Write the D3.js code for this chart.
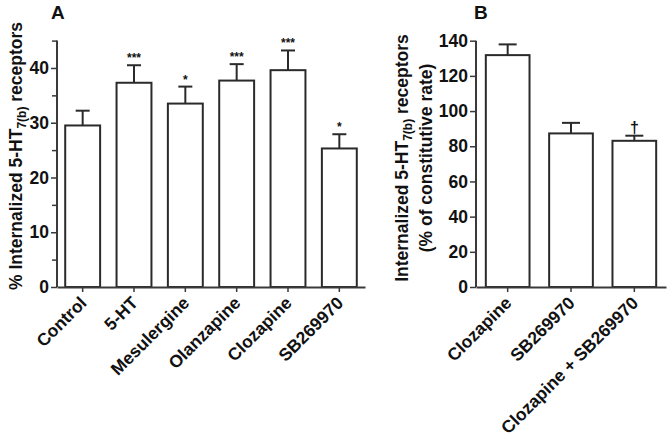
<!DOCTYPE html>
<html><head><meta charset="utf-8">
<script src="https://cdn.jsdelivr.net/npm/d3@7"></script>
<style>
body{margin:0;background:#fff;}
text{font-family:"Liberation Sans",Arial,sans-serif;font-weight:bold;fill:#111;}
</style></head>
<body><svg id="c" width="670" height="442"></svg>
<script>
// Panel A data
const catsA = ["Control","5-HT","Mesulergine","Olanzapine","Clozapine","SB269970"];
const valsA = [29.5, 37.3, 33.5, 37.7, 39.6, 25.3];
const errA  = [2.7, 3.2, 3.1, 3.0, 3.6, 2.6];
const sigA  = ["", "***", "*", "***", "***", "*"];
const ticksA = [0,10,20,30,40];
const minorA = [5,15,25,35,45];
// Panel B data
const catsB = ["Clozapine","SB269970","Clozapine + SB269970"];
const valsB = [131.8, 87.3, 83.1];
const errB  = [6.1, 6.0, 2.9];
const sigB  = ["", "", "\u2020"];
const ticksB = [0,20,40,60,80,100,120,140];

const svg = d3.select("#c");
const axisCol = "#3a3a3a";
const FS = 17.5;

function panel(opts){
  const {x0,x1,yTop,y0,domMax,cats,vals,errs,sigs,ticks,minor,pad,cap} = opts;
  const g = svg.append("g");
  const x = d3.scaleBand().domain(cats).range([x0,x1]).paddingInner(pad).paddingOuter(pad/2);
  const y = d3.scaleLinear().domain([0,domMax]).range([y0,yTop]);
  g.selectAll("rect.bar").data(cats).join("rect")
    .attr("x",d=>x(d)).attr("width",x.bandwidth())
    .attr("y",(d,i)=>y(vals[i])).attr("height",(d,i)=>y0-y(vals[i]))
    .attr("fill","#fff").attr("stroke","#2a2a2a").attr("stroke-width",2);
  cats.forEach((d,i)=>{
    const cx = x(d)+x.bandwidth()/2;
    g.append("line").attr("x1",cx).attr("x2",cx).attr("y1",y(vals[i])).attr("y2",y(vals[i]+errs[i]))
      .attr("stroke","#2a2a2a").attr("stroke-width",2);
    g.append("line").attr("x1",cx-cap/2).attr("x2",cx+cap/2).attr("y1",y(vals[i]+errs[i])).attr("y2",y(vals[i]+errs[i]))
      .attr("stroke","#2a2a2a").attr("stroke-width",2);
    if(sigs[i]){
      g.append("text").attr("x",cx).attr("y",y(vals[i]+errs[i])-3)
        .attr("text-anchor","middle").attr("font-size",sigs[i]==="\u2020"?16:12).text(sigs[i]);
    }
  });
  const ya = g.append("g").attr("transform",`translate(${x0},0)`)
    .call(d3.axisLeft(y).tickValues(ticks).tickSize(6).tickPadding(2).tickFormat(d3.format("d")));
  ya.selectAll(".tick text").attr("font-size",FS).style("font-weight","bold");
  const ym = g.append("g").attr("transform",`translate(${x0},0)`)
    .call(d3.axisLeft(y).tickValues(minor).tickSize(5).tickFormat(""));
  ym.select(".domain").remove();
  [ya,ym].forEach(a=>{a.selectAll("line").attr("stroke",axisCol).attr("stroke-width",1.5);});
  ya.select(".domain").attr("d",`M0,${y0}V${yTop}`).attr("stroke",axisCol).attr("stroke-width",2);
  const xa = g.append("g").attr("transform",`translate(0,${y0})`)
    .call(d3.axisBottom(x).tickSize(5).tickSizeOuter(0));
  xa.select(".domain").attr("stroke",axisCol).attr("stroke-width",2);
  xa.selectAll(".tick line").attr("stroke",axisCol).attr("stroke-width",1.5);
  xa.selectAll(".tick text").attr("font-size",FS).style("font-weight","bold")
    .attr("text-anchor","end").attr("dy",0).attr("y",0)
    .attr("transform","translate(5,17) rotate(-45)");
  return {x,y};
}

panel({x0:57,x1:365,yTop:40.6,y0:287,domMax:45,cats:catsA,vals:valsA,errs:errA,sigs:sigA,
  ticks:ticksA,minor:minorA,pad:0.32,cap:14});
panel({x0:476,x1:666,yTop:40.7,y0:287,domMax:140,cats:catsB,vals:valsB,errs:errB,sigs:sigB,
  ticks:ticksB,minor:[],pad:0.31,cap:18});

svg.append("text").attr("x",51).attr("y",19).attr("font-size",19).text("A");
svg.append("text").attr("x",474).attr("y",19).attr("font-size",19).text("B");

const tA = svg.append("text").attr("transform","translate(22,156) rotate(-90)")
  .attr("text-anchor","middle").attr("font-size",FS);
tA.append("tspan").text("% Internalized 5-HT");
tA.append("tspan").attr("font-size",12).attr("dy",4).text("7(b)");
tA.append("tspan").attr("dy",-4).text(" receptors");

const tB = svg.append("text").attr("transform","translate(408,158) rotate(-90)")
  .attr("text-anchor","middle").attr("font-size",FS);
tB.append("tspan").text("Internalized 5-HT");
tB.append("tspan").attr("font-size",12).attr("dy",4).text("7(b)");
tB.append("tspan").attr("dy",-4).text(" receptors");
svg.append("text").attr("transform","translate(432,158) rotate(-90)")
  .attr("text-anchor","middle").attr("font-size",FS).text("(% of constitutive rate)");
</script></body></html>
